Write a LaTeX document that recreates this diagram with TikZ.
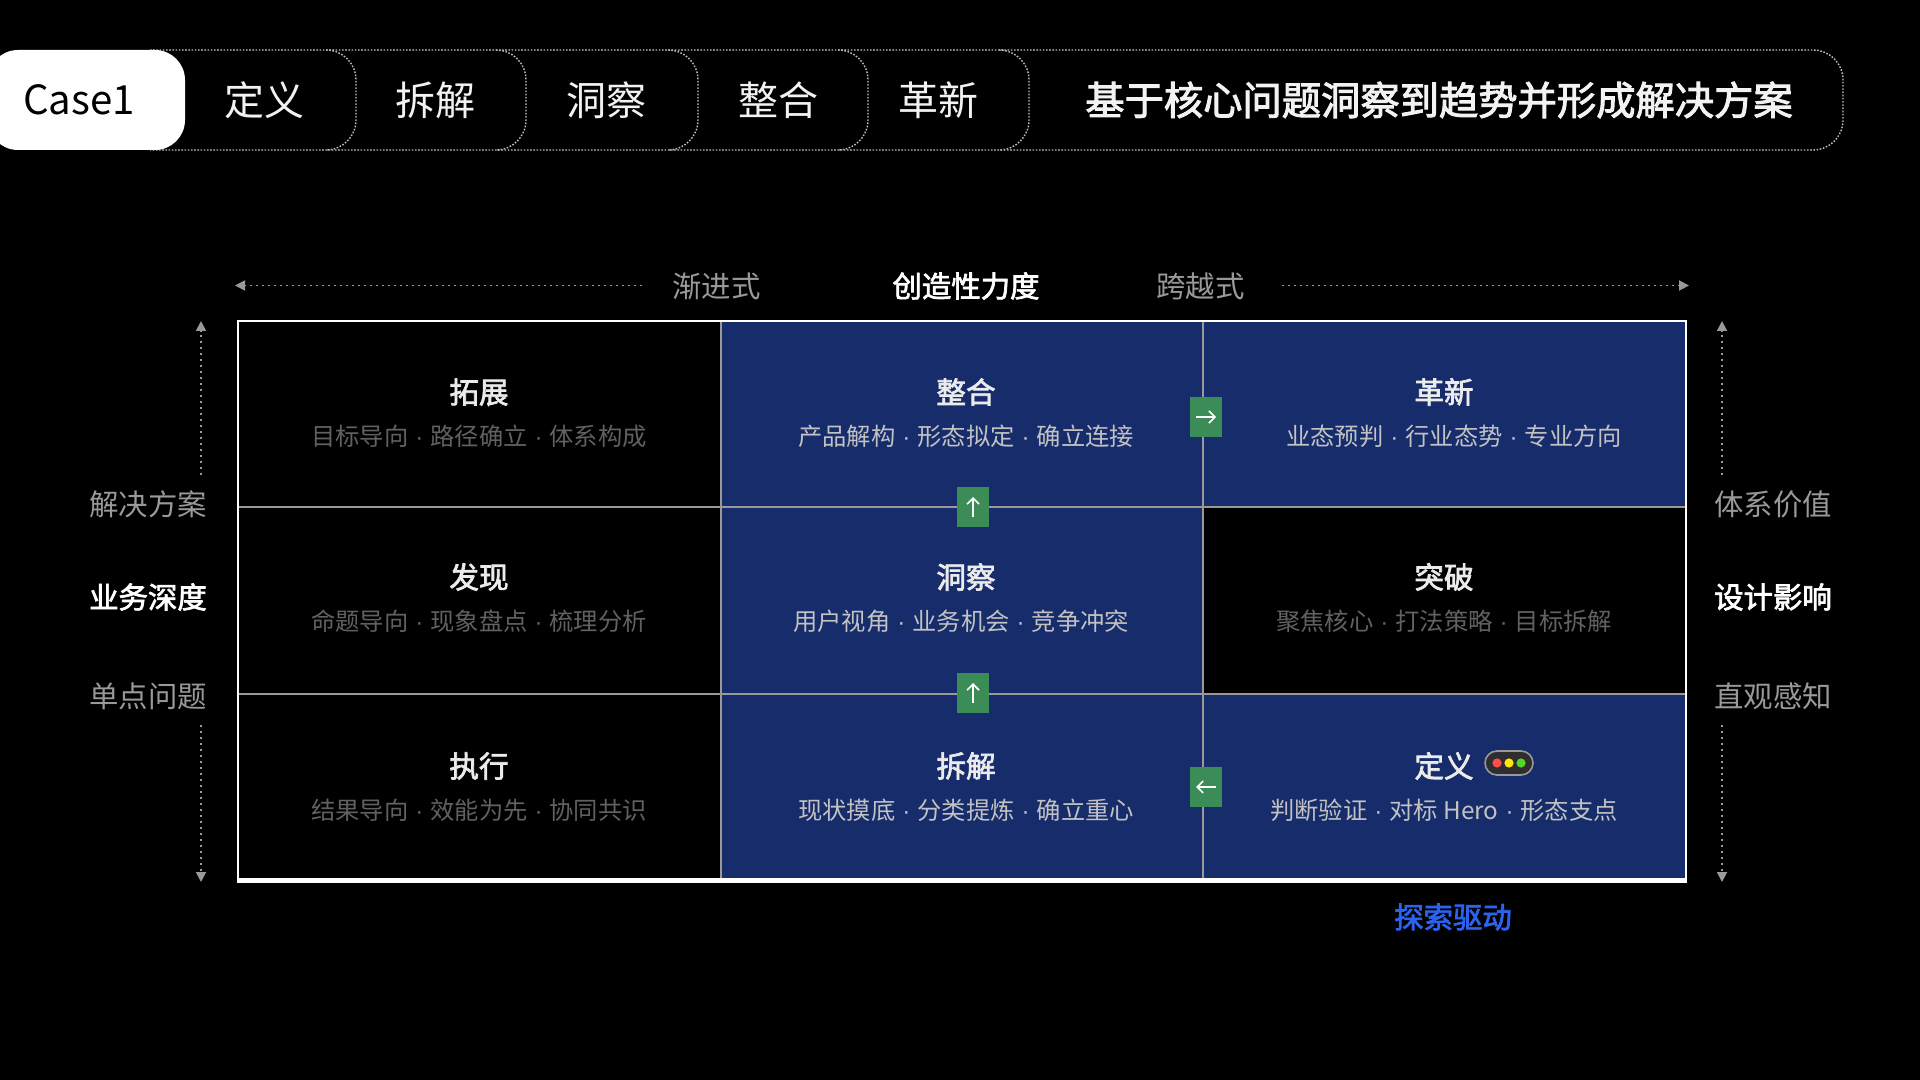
\documentclass[tikz,border=0pt]{standalone}
\usepackage{fontspec}
\setmainfont{Noto Sans CJK SC}
\newfontfamily\medfont[FakeBold=2.4]{Noto Sans CJK SC}
\newfontfamily\dotfont{Liberation Sans}
\usetikzlibrary{arrows.meta}

\definecolor{navycell}{HTML}{162C6B}
\definecolor{greenbox}{HTML}{3C8C58}
\definecolor{gridgray}{HTML}{999999}
\definecolor{bluedrive}{HTML}{2B62F0}
\definecolor{lampgreen}{HTML}{55D52A}

\newcommand{\sepdot}{\hspace{3.5pt}{\dotfont ·}\hspace{3.5pt}}

\tikzset{
  tabline/.style={draw=white!75!black, line width=0.7pt, dash pattern=on 0.8pt off 0.8pt, rounded corners=15pt},
  tabtext/.style={text=white!95!black, font=\fontsize{20pt}{24pt}\selectfont},
  axisline/.style={draw=gridgray, line width=0.9pt, dash pattern=on 1pt off 2pt, -{Triangle[length=5pt,width=5pt,fill=gridgray]}},
  axistext/.style={text=gridgray, font=\fontsize{14.7pt}{18pt}\selectfont},
  axishead/.style={text=white, font=\fontsize{14.7pt}{18pt}\medfont},
  cellhead/.style={text=white!92!black, font=\fontsize{14.8pt}{18pt}\medfont},
  cellsub/.style={text=white!38!black, font=\fontsize{12.15pt}{14pt}\selectfont},
  cellsubon/.style={text=white!76!black, font=\fontsize{12.15pt}{14pt}\selectfont},
  gridline/.style={draw=gridgray, line width=1pt},
  stepbox/.style={fill=greenbox, minimum width=16pt, minimum height=20pt, inner sep=0pt},
  steparrow/.style={draw=white, line width=0.8pt, -{Straight Barb[length=3pt,width=6pt]}},
}

\begin{document}
\begin{tikzpicture}[x=0.5pt, y=-0.5pt]

\useasboundingbox (0,0) rectangle (1920,1080);
\fill[black] (0,0) rectangle (1920,1080);
\clip (0,0) rectangle (1920,1080);

% linguette in alto
\draw[tabline] (150,50) -- (1843,50) -- (1843,150) -- (150,150);
\draw[tabline] (999,50) -- (1029,50) -- (1029,150) -- (999,150);
\draw[tabline] (838,50) -- (868,50) -- (868,150) -- (838,150);
\draw[tabline] (668,50) -- (698,50) -- (698,150) -- (668,150);
\draw[tabline] (496,50) -- (526,50) -- (526,150) -- (496,150);
\draw[tabline] (326,50) -- (356,50) -- (356,150) -- (326,150);
\fill[white, rounded corners=15pt] (-12,50) rectangle (185,150);

\node[text=black, font=\fontsize{20.1pt}{24pt}\selectfont] (tabcase) at (79,100) {Case1};
\node[tabtext] (tabdef) at (264.5,100) {定义};
\node[tabtext] (tabsplit) at (435.5,100) {拆解};
\node[tabtext] (tabins) at (606,100) {洞察};
\node[tabtext] (tabmerge) at (778,100) {整合};
\node[tabtext] (tabnew) at (938,100) {革新};
\node[tabtext, font=\fontsize{19.65pt}{24pt}\medfont] (tabtitle) at (1439,100) {基于核心问题洞察到趋势并形成解决方案};

% celle colorate
\fill[navycell] (721,321) rectangle (1686,880);
\fill[navycell] (1203,321) rectangle (1686,507);
\fill[black] (1203,507) rectangle (1686,694);

% griglia
\draw[gridline] (238,507) -- (1686,507);
\draw[gridline] (238,694) -- (1686,694);
\draw[gridline] (721,321) -- (721,880);
\draw[gridline] (1203,321) -- (1203,880);
\draw[white, line width=1pt] (238,321) rectangle (1686,880);
\draw[white, line width=2.5pt] (237,880.5) -- (1687,880.5);

% assi
\node[axistext] (axleft) at (716.5,286) {渐进式};
\node[axishead] (axmid) at (966,286) {创造性力度};
\node[axistext] (axright) at (1200.5,286) {跨越式};
\coordinate (axa) at (642,285.5);
\coordinate (axb) at (235,285.5);
\coordinate (axc) at (1282,285.5);
\coordinate (axd) at (1689,285.5);
\draw[axisline] (axa) -- (axb);
\draw[axisline] (axc) -- (axd);

\node[axistext] (lefttop) at (148,504) {解决方案};
\node[axishead] (leftmid) at (148,597) {业务深度};
\node[axistext] (leftbot) at (148,696) {单点问题};
\node[axistext] (righttop) at (1773,504) {体系价值};
\node[axishead] (rightmid) at (1773,597) {设计影响};
\node[axistext] (rightbot) at (1773,696) {直观感知};

\coordinate (lefta) at (201,475);
\coordinate (leftb) at (201,321);
\coordinate (leftc) at (201,725);
\coordinate (leftd) at (201,882);
\coordinate (righta) at (1722,475);
\coordinate (rightb) at (1722,321);
\coordinate (rightc) at (1722,725);
\coordinate (rightd) at (1722,882);
\draw[axisline] (lefta) -- (leftb);
\draw[axisline] (leftc) -- (leftd);
\draw[axisline] (righta) -- (rightb);
\draw[axisline] (rightc) -- (rightd);

% testi delle celle
\node[cellhead] (extendh) at (479,392) {拓展};
\node[cellsub] (extends) at (479,436) {目标导向\sepdot 路径确立\sepdot 体系构成};
\node[cellhead] (findh) at (479,577) {发现};
\node[cellsub] (finds) at (479,621) {命题导向\sepdot 现象盘点\sepdot 梳理分析};
\node[cellhead] (doh) at (479,766) {执行};
\node[cellsub] (dos) at (479,810) {结果导向\sepdot 效能为先\sepdot 协同共识};

\node[cellhead] (mergeh) at (966,392) {整合};
\node[cellsubon] (merges) at (966,436) {产品解构\sepdot 形态拟定\sepdot 确立连接};
\node[cellhead] (insh) at (966,577) {洞察};
\node[cellsubon] (inss) at (961,621) {用户视角\sepdot 业务机会\sepdot 竞争冲突};
\node[cellhead] (splith) at (966,766) {拆解};
\node[cellsubon] (splits) at (966,810) {现状摸底\sepdot 分类提炼\sepdot 确立重心};

\node[cellhead] (newh) at (1444,392) {革新};
\node[cellsubon] (news) at (1454,436) {业态预判\sepdot 行业态势\sepdot 专业方向};
\node[cellhead] (breakh) at (1444,577) {突破};
\node[cellsub] (breaks) at (1444,621) {聚焦核心\sepdot 打法策略\sepdot 目标拆解};
\node[cellhead] (defh) at (1444,766) {定义};
\node[cellsubon] (defs) at (1444,810) {判断验证\sepdot 对标 Hero\sepdot 形态支点};

% semaforo
\draw[fill=black!82, draw=gridgray, line width=0.8pt, rounded corners=6pt] (1485,751) rectangle (1533,775);
\fill[red!70!white] (1497,763) circle (2.3pt);
\fill[yellow!90!orange] (1509,763) circle (2.3pt);
\fill[lampgreen] (1521,763) circle (2.3pt);

% riquadri verdi
\node[stepbox] (stepright) at (1206,417) {};
\node[stepbox] (stepupa) at (973,507) {};
\node[stepbox] (stepupb) at (973,693) {};
\node[stepbox] (stepleft) at (1206,787) {};
\draw[steparrow] ([xshift=-5pt]stepright.center) -- ([xshift=5pt]stepright.center);
\draw[steparrow] ([yshift=-5pt]stepupa.center) -- ([yshift=5pt]stepupa.center);
\draw[steparrow] ([yshift=-5pt]stepupb.center) -- ([yshift=5pt]stepupb.center);
\draw[steparrow] ([xshift=5pt]stepleft.center) -- ([xshift=-5pt]stepleft.center);

\node[text=bluedrive, font=\fontsize{14.7pt}{18pt}\medfont] (drive) at (1453,917) {探索驱动};

\end{tikzpicture}
\end{document}
